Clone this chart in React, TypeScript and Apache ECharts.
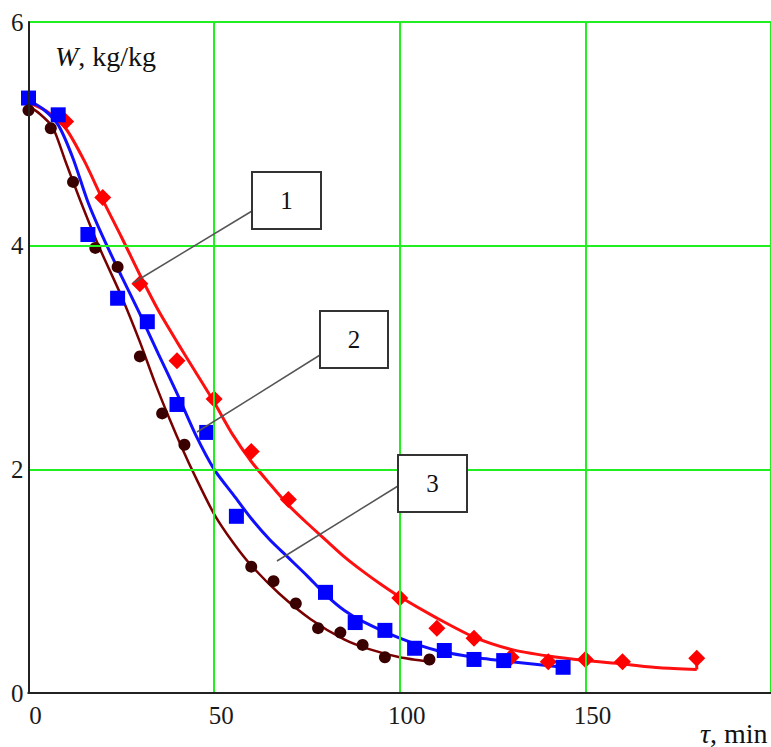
import React, { useEffect, useRef } from "react";
import * as echarts from "echarts";

// Experimental points (time, min ; moisture, kg/kg)
const pts1: [number, number][] = [
  [10, 5.11], [20, 4.43], [30, 3.66], [40, 2.97], [50, 2.63], [60, 2.16], [70, 1.73],
  [100, 0.85], [110, 0.58], [120, 0.49], [130, 0.32], [140, 0.28], [150, 0.3], [160, 0.28], [180, 0.31],
];
const pts2: [number, number][] = [
  [0, 5.32], [8, 5.17], [16, 4.1], [24, 3.53], [32, 3.32], [40, 2.58], [48, 2.33], [56, 1.58],
  [80, 0.9], [88, 0.63], [96, 0.56], [104, 0.4], [112, 0.38], [120, 0.3], [128, 0.29], [144, 0.23],
];
const pts3: [number, number][] = [
  [0, 5.21], [6, 5.05], [12, 4.57], [18, 3.98], [24, 3.81], [30, 3.01], [36, 2.5], [42, 2.22],
  [60, 1.13], [66, 1.0], [72, 0.8], [78, 0.58], [84, 0.54], [90, 0.43], [96, 0.32], [108, 0.3],
];

// Fitted curves
const fit1: [number, number][] = [
  [0, 5.28], [5, 5.2], [10, 5.05], [15, 4.76], [20, 4.41], [25, 4.08], [30, 3.74], [35, 3.42],
  [40, 3.14], [45, 2.87], [50, 2.6], [55, 2.31], [60, 2.07], [65, 1.87], [70, 1.68], [75, 1.52],
  [80, 1.37], [85, 1.22], [90, 1.09], [95, 0.97], [100, 0.86], [110, 0.67], [120, 0.5],
  [130, 0.39], [140, 0.33], [150, 0.29], [160, 0.26], [170, 0.225], [180, 0.21],
];
const tail1: [number, number][] = [[180, 0.21], [180, 0.31]];
const fit2: [number, number][] = [
  [0, 5.3], [4, 5.22], [8, 5.08], [12, 4.78], [16, 4.39], [20, 4.08], [25, 3.73], [30, 3.39],
  [35, 3.03], [40, 2.68], [45, 2.31], [50, 2.0], [55, 1.78], [60, 1.56], [65, 1.37], [70, 1.21],
  [75, 1.05], [80, 0.88], [85, 0.74], [90, 0.64], [100, 0.49], [110, 0.38], [120, 0.32],
  [130, 0.28], [144, 0.23],
];
const fit3: [number, number][] = [
  [0, 5.25], [3, 5.18], [6.5, 5.06], [10, 4.75], [14, 4.4], [19, 3.99], [25, 3.55], [30, 3.14],
  [34, 2.78], [38, 2.45], [41.5, 2.18], [45, 1.93], [50, 1.6], [55, 1.35], [60, 1.14], [67.5, 0.89],
  [76, 0.66], [85, 0.48], [92, 0.39], [100, 0.32], [108, 0.28],
];

const xTicks = [0, 50, 100, 150, 200];
const yTicks = [0, 2, 4, 6];

const SERIF = "Liberation Serif";

export default function App() {
  const ref = useRef<HTMLDivElement>(null);
  useEffect(() => {
    if (!ref.current) return;
    const chart = echarts.init(ref.current, null, { renderer: "svg" });
    const axisLabelBase = { fontFamily: SERIF, fontSize: 25, color: "#1a1a1a" };
    const lineSeries = (data: [number, number][], color: string, width: number, smooth: boolean) => ({
      type: "line",
      data,
      showSymbol: false,
      smooth: smooth ? 0.25 : false,
      lineStyle: { color, width },
      z: 3,
      silent: true,
    });
    const scatter = (data: [number, number][], symbol: string, size: number, color: string) => ({
      type: "scatter",
      data,
      symbol,
      symbolSize: size,
      itemStyle: { color, opacity: 1 },
      z: 5,
      silent: true,
    });
    const boxStyle = { fill: "#fff", stroke: "#333", lineWidth: 2 };
    const callout = (x: number, y: number, w: number, h: number, label: string, lx1: number, ly1: number, lx2: number, ly2: number) => [
      { type: "line", shape: { x1: lx1, y1: ly1, x2: lx2, y2: ly2 }, style: { stroke: "#555", lineWidth: 1.5 }, z: 100 },
      { type: "rect", shape: { x, y, width: w, height: h }, style: boxStyle, z: 100 },
      {
        type: "text",
        x: x + w / 2,
        y: y + h / 2,
        style: { text: label, fontFamily: SERIF, fontSize: 25, fill: "#111", align: "center", verticalAlign: "middle" },
        z: 101,
      },
    ];
    chart.setOption({
      animation: false,
      backgroundColor: "#fff",
      grid: { left: 28.5, top: 22, width: 745, height: 671, containLabel: false },
      xAxis: [
        {
          type: "value",
          min: xTicks[0],
          max: xTicks[xTicks.length - 1],
          interval: 50,
          axisLine: { show: true, onZero: false, lineStyle: { color: "#222", width: 2 } },
          axisTick: { show: false },
          splitLine: { show: true, lineStyle: { color: "#22ee22", width: 2 } },
          axisLabel: { ...axisLabelBase, margin: 10, padding: [0, 0, 0, 14], showMaxLabel: false },
          z: 10,
        },
        {
          type: "value",
          position: "top",
          min: 0,
          max: 200,
          interval: 50,
          axisLine: { show: true, lineStyle: { color: "#222", width: 2 } },
          axisTick: { show: false },
          axisLabel: { show: false },
          splitLine: { show: false },
          z: 10,
        },
      ],
      yAxis: {
        type: "value",
        min: yTicks[0],
        max: yTicks[yTicks.length - 1],
        interval: 2,
        axisLine: { show: true, onZero: false, lineStyle: { color: "#222", width: 2 } },
        axisTick: { show: false },
        splitLine: { show: true, lineStyle: { color: "#22ee22", width: 2 } },
        axisLabel: { ...axisLabelBase, margin: 5, padding: [6, 0, 0, 0] },
        z: 10,
      },
      series: [
        lineSeries(fit1, "#ff1010", 3, true),
        lineSeries(tail1, "#ff1010", 3, false),
        lineSeries(fit2, "#1010ff", 3, true),
        lineSeries(fit3, "#7a0000", 2.5, true),
        scatter(pts1, "diamond", 17, "#ff0000"),
        scatter(pts2, "rect", 15, "#0000ff"),
        scatter(pts3, "circle", 12, "#3a0000"),
      ],
      graphic: [
        {
          type: "text",
          left: 55,
          top: 42,
          style: {
            text: "{i|W}, kg/kg",
            fontFamily: SERIF,
            fontSize: 28,
            fill: "#111",
            rich: { i: { fontFamily: SERIF, fontSize: 28, fontStyle: "italic", fill: "#111" } },
          },
          z: 100,
        },
        {
          type: "text",
          left: 700,
          top: 719,
          style: {
            text: "{i|τ}, min",
            fontFamily: SERIF,
            fontSize: 28,
            fill: "#111",
            rich: { i: { fontFamily: SERIF, fontSize: 28, fontStyle: "italic", fill: "#111" } },
          },
          z: 100,
        },
        ...callout(252, 172, 69, 57, "1", 252, 211, 133, 283),
        ...callout(320, 311, 68, 57, "2", 320, 355, 197, 432),
        ...callout(398, 455, 69, 57, "3", 398, 486, 277, 561),
      ],
    });
    return () => chart.dispose();
  }, []);
  return (
    <div
      ref={ref}
      style={{ position: "absolute", left: 0, top: 0, width: 771, height: 747, background: "#fff" }}
    />
  );
}
